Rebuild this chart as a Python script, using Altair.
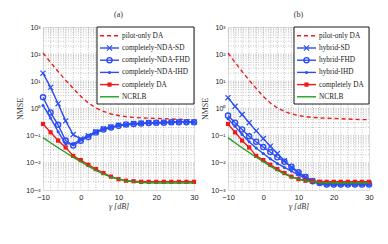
import altair as alt
import pandas as pd

# ---------------- data ----------------
gamma = list(range(-10, 31, 2))

pilot_only_da = [110, 50, 23, 11, 5.5, 2.8, 1.6, 1.05, 0.78, 0.63, 0.55, 0.5, 0.47,
                 0.45, 0.44, 0.43, 0.42, 0.41, 0.40, 0.39, 0.39]
completely_da = [0.27, 0.133, 0.066, 0.037, 0.018, 0.0126, 0.0085, 0.0059, 0.0042,
                 0.0031, 0.0025, 0.0022, 0.0021, 0.002, 0.002, 0.002, 0.002, 0.002,
                 0.002, 0.002, 0.002]
ncrlb = [0.085, 0.055, 0.036, 0.024, 0.016, 0.011, 0.0075, 0.0053, 0.0039, 0.003,
         0.0025, 0.0022, 0.002, 0.0019, 0.00185, 0.0018, 0.0018, 0.0018, 0.0018,
         0.0018, 0.0018]

nda_sd = [20, 6, 1.5, 0.35, 0.11, 0.075, 0.1, 0.14, 0.18, 0.21, 0.24, 0.26, 0.28,
          0.29, 0.3, 0.3, 0.31, 0.31, 0.32, 0.32, 0.32]
nda_fhd = [2.6, 0.72, 0.25, 0.066, 0.043, 0.065, 0.09, 0.13, 0.17, 0.2, 0.23, 0.26,
           0.27, 0.28, 0.29, 0.3, 0.3, 0.31, 0.31, 0.31, 0.31]
nda_ihd = [1.3, 0.45, 0.14, 0.05, 0.05, 0.07, 0.095, 0.13, 0.17, 0.2, 0.23, 0.25,
           0.27, 0.28, 0.29, 0.3, 0.3, 0.31, 0.31, 0.31, 0.31]

hyb_sd = [2.5, 1.2, 0.6, 0.3, 0.15, 0.078, 0.041, 0.022, 0.012, 0.0068, 0.0042,
          0.003, 0.0022, 0.0019, 0.0017, 0.0017, 0.0017, 0.0017, 0.0017, 0.0017, 0.0017]
hyb_fhd = [0.55, 0.3, 0.17, 0.095, 0.06, 0.038, 0.025, 0.016, 0.011, 0.0072, 0.0045,
           0.003, 0.0021, 0.0018, 0.0016, 0.0016, 0.0016, 0.0016, 0.0016, 0.0016, 0.0016]
hyb_ihd = [0.42, 0.22, 0.11, 0.06, 0.035, 0.022, 0.014, 0.0095, 0.0068, 0.005, 0.0035,
           0.0027, 0.002, 0.0017, 0.0016, 0.0016, 0.0016, 0.0016, 0.0016, 0.0016, 0.0016]

labels_a = ["pilot-only DA", "completely-NDA-SD", "completely-NDA-FHD",
            "completely-NDA-IHD", "completely DA", "NCRLB"]
labels_b = ["pilot-only DA", "hybrid-SD", "hybrid-FHD", "hybrid-IHD",
            "completely DA", "NCRLB"]
series_a = [pilot_only_da, nda_sd, nda_fhd, nda_ihd, completely_da, ncrlb]
series_b = [pilot_only_da, hyb_sd, hyb_fhd, hyb_ihd, completely_da, ncrlb]

x_ticks = [-10, 0, 10, 20, 30]
x_grid = list(range(-8, 30, 2))
y_ticks = [1e-3, 1e-2, 1e-1, 1e0, 1e1, 1e2, 1e3]
y_grid = [m * 10.0 ** e for e in range(-3, 3) for m in range(1, 10)][1:]

# ---------------- styles ----------------
BLUE = "#2b4df2"
RED = "#f01a1a"
GREEN = "#1f9e1f"
XPATH = "M-1,-1L1,1M-1,1L1,-1"
styles = [
    dict(color=RED, dash=[4, 3], marker=None),
    dict(color=BLUE, dash=None, marker="x"),
    dict(color=BLUE, dash=None, marker="o"),
    dict(color=BLUE, dash=None, marker="."),
    dict(color=RED, dash=None, marker="s"),
    dict(color=GREEN, dash=None, marker=None),
]
SERIF = "Liberation Serif"
SANS = "Liberation Sans"

sup_expr = ("'10' + replace(replace(replace(replace(replace(format(round(log(datum.value)/LN10),'d'),"
            "'-','⁻'),'0','⁰'),'1','¹'),'2','²'),'3','³')")

X_AXIS = alt.Axis(values=x_ticks, grid=False, ticks=False, domain=False,
                  labelFont=SANS, labelFontSize=7.5, labelColor="#222",
                  labelPadding=3, labelFlush=False,
                  titleFont=SERIF, titleFontSize=8, titleFontStyle="italic",
                  titleFontWeight="normal", titleColor="#333", titlePadding=2)
Y_AXIS = alt.Axis(values=y_ticks, grid=False, ticks=False, domain=False,
                  labelExpr=sup_expr, labelFont=SANS, labelFontSize=7,
                  labelColor="#222", labelPadding=3, labelFlush=False,
                  titleFont=SERIF, titleFontSize=8, titleFontWeight="normal",
                  titleColor="#333", titlePadding=1)
XTITLE = "γ [dB]"
YTITLE = "NMSE"


def marker_mark(m, data, enc):
    if m == "x":
        return alt.Chart(data).mark_point(shape=XPATH, filled=False, size=26, strokeWidth=1.2,
                                          color=BLUE, opacity=1).encode(**enc)
    if m == "o":
        return alt.Chart(data).mark_point(shape="circle", filled=False, size=26, strokeWidth=1.4,
                                          color=BLUE, opacity=1).encode(**enc)
    if m == ".":
        return alt.Chart(data).mark_point(shape="circle", filled=True, size=9,
                                          color=BLUE, opacity=1).encode(**enc)
    return alt.Chart(data).mark_point(shape="square", filled=True, size=18,
                                      color=RED, opacity=1).encode(**enc)


def make_panel(title, labels, series, width, height, leg_w):
    xs = alt.Scale(domain=[-10, 30], nice=False, zero=False)
    ys = alt.Scale(type="log", domain=[1e-3, 1e3], nice=False)
    gx = alt.Chart(pd.DataFrame({"g": x_grid})).mark_rule(
        color="#9a9a9a", strokeDash=[1, 1.5], strokeWidth=0.6
    ).encode(x=alt.X("g:Q", scale=xs, title=XTITLE, axis=X_AXIS))
    gy = alt.Chart(pd.DataFrame({"g": y_grid})).mark_rule(
        color="#9a9a9a", strokeDash=[1, 1.5], strokeWidth=0.6
    ).encode(y=alt.Y("g:Q", scale=ys, title=YTITLE, axis=Y_AXIS))
    layers = [gx, gy]
    for lab, vals, st in zip(labels, series, styles):
        df = pd.DataFrame({"gamma": gamma, "nmse": vals})
        enc = dict(x=alt.X("gamma:Q", scale=xs, axis=X_AXIS, title=XTITLE),
                   y=alt.Y("nmse:Q", scale=ys, axis=Y_AXIS, title=YTITLE))
        lk = dict(color=st["color"], strokeWidth=1.4)
        if st["dash"]:
            lk["strokeDash"] = st["dash"]
        layers.append(alt.Chart(df).mark_line(**lk).encode(**enc))
        if st["marker"]:
            layers.append(marker_mark(st["marker"], df, enc))

    # legend (pixel layout)
    one = alt.Data(values=[{}])
    x0 = width - leg_w
    layers.append(alt.Chart(one).mark_rect(fill="white", stroke="black", strokeWidth=0.9).encode(
        x=alt.value(x0), x2=alt.value(width), y=alt.value(0), y2=alt.value(77)))
    for i, (lab, st) in enumerate(zip(labels, styles)):
        yy = 8.8 + 12.2 * i
        rk = dict(color=st["color"], strokeWidth=1.4)
        if st["dash"]:
            rk["strokeDash"] = st["dash"]
        layers.append(alt.Chart(one).mark_rule(**rk).encode(
            x=alt.value(x0 + 3), x2=alt.value(x0 + 22), y=alt.value(yy)))
        if st["marker"]:
            layers.append(marker_mark(st["marker"], one,
                                      dict(x=alt.value(x0 + 12.5), y=alt.value(yy))))
        layers.append(alt.Chart(one).mark_text(
            align="left", baseline="middle", font=SERIF, fontSize=7.3, color="#222"
        ).encode(x=alt.value(x0 + 25), y=alt.value(yy), text=alt.value(lab)))

    return alt.layer(*layers).properties(
        width=width, height=height,
        title=alt.TitleParams(title, font=SERIF, fontSize=8, fontWeight="normal",
                              color="#333", offset=4))


pa = make_panel("(a)", labels_a, series_a, 151, 163, 97)
pb = make_panel("(b)", labels_b, series_b, 141, 163, 75)

chart = alt.hconcat(pa, pb, spacing=34, bounds="flush").properties(
    padding={"left": 8, "top": 2, "right": 0, "bottom": 0}
).configure_view(stroke="black", strokeWidth=0.9).configure(background="white")

chart.save("out.html", embed_options={"renderer": "svg", "actions": False})
